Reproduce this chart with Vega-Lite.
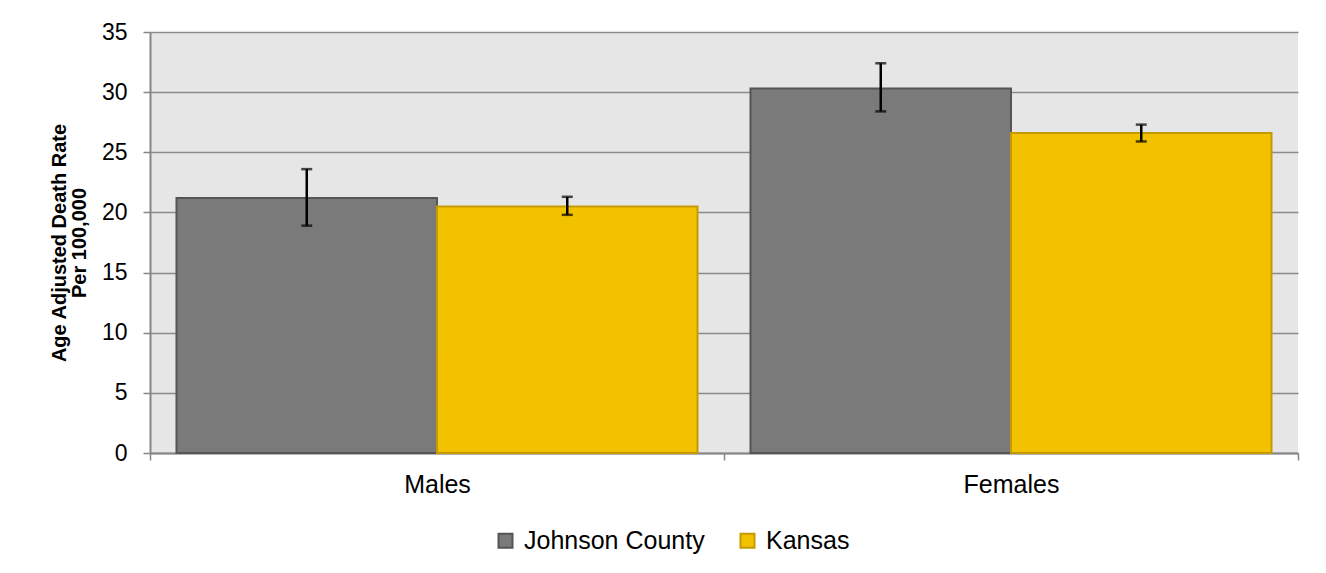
{
  "$schema": "https://vega.github.io/schema/vega-lite/v6.json",
  "autosize": {"type": "none"},
  "padding": {"left": 150, "top": 32, "right": 28, "bottom": 120},
  "width": 1148,
  "height": 421,
  "background": "white",
  "config": {
    "font": "Liberation Sans",
    "view": {"fill": "#E6E6E6", "stroke": null},
    "axis": {"labelFont": "Liberation Sans", "titleFont": "Liberation Sans", "labelColor": "#000000", "titleColor": "#000000"},
    "legend": {"labelFont": "Liberation Sans", "labelColor": "#000000"}
  },
  "data": {
    "values": [
      {"sex": "Males", "region": "Johnson County", "rate": 21.2, "lower": 18.9, "upper": 23.6},
      {"sex": "Males", "region": "Kansas", "rate": 20.5, "lower": 19.8, "upper": 21.3},
      {"sex": "Females", "region": "Johnson County", "rate": 30.3, "lower": 28.4, "upper": 32.4},
      {"sex": "Females", "region": "Kansas", "rate": 26.6, "lower": 25.9, "upper": 27.3}
    ]
  },
  "encoding": {
    "x": {
      "field": "sex", "type": "nominal", "sort": ["Males", "Females"],
      "scale": {"paddingInner": 0, "paddingOuter": 0},
      "axis": {
        "title": null, "labelAngle": 0, "labelFontSize": 25, "labelPadding": 12,
        "tickBand": "extent", "tickColor": "#868686", "tickWidth": 1.5, "tickSize": 7,
        "domainColor": "#868686", "domainWidth": 2, "grid": false
      }
    },
    "xOffset": {
      "field": "region", "type": "nominal", "sort": ["Johnson County", "Kansas"],
      "scale": {"paddingInner": 0, "paddingOuter": 0.1017}
    }
  },
  "layer": [
    {
      "mark": {"type": "bar", "strokeWidth": 2},
      "encoding": {
        "y": {
          "field": "rate", "type": "quantitative",
          "scale": {"domain": [0, 35], "nice": false},
          "axis": {
            "values": [0, 5, 10, 15, 20, 25, 30, 35],
            "title": ["Age Adjusted Death Rate", "Per 100,000"],
            "titleFontSize": 20, "titleFontWeight": "bold", "titlePadding": 12, "titleLineHeight": 20,
            "labelFontSize": 23, "labelPadding": 16,
            "tickColor": "#868686", "tickWidth": 1.5, "tickSize": 7,
            "domainColor": "#868686", "domainWidth": 2,
            "grid": true, "gridColor": "#8A8A8A", "gridWidth": 1.5
          }
        },
        "fill": {
          "field": "region", "type": "nominal",
          "scale": {"domain": ["Johnson County", "Kansas"], "range": ["#7A7A7A", "#F2C200"]},
          "legend": {
            "title": null, "orient": "none", "legendX": 343, "legendY": 496, "direction": "horizontal",
            "labelFontSize": 25, "labelLimit": 400, "symbolType": "square", "symbolSize": 196,
            "symbolStrokeWidth": 2, "columnPadding": 30, "labelOffset": 6
          }
        },
        "stroke": {
          "field": "region", "type": "nominal",
          "scale": {"domain": ["Johnson County", "Kansas"], "range": ["#555555", "#C49A00"]},
          "legend": {
            "title": null, "orient": "none", "legendX": 343, "legendY": 496, "direction": "horizontal",
            "labelFontSize": 25, "labelLimit": 400, "symbolType": "square", "symbolSize": 196,
            "symbolStrokeWidth": 2, "columnPadding": 30, "labelOffset": 6
          }
        }
      }
    },
    {
      "mark": {"type": "rule", "color": "black", "strokeWidth": 2.5},
      "encoding": {
        "y": {"field": "lower", "type": "quantitative"},
        "y2": {"field": "upper"}
      }
    },
    {
      "mark": {"type": "tick", "color": "black", "thickness": 2.5, "size": 11, "orient": "horizontal"},
      "encoding": {"y": {"field": "lower", "type": "quantitative"}}
    },
    {
      "mark": {"type": "tick", "color": "black", "thickness": 2.5, "size": 11, "orient": "horizontal"},
      "encoding": {"y": {"field": "upper", "type": "quantitative"}}
    }
  ]
}
